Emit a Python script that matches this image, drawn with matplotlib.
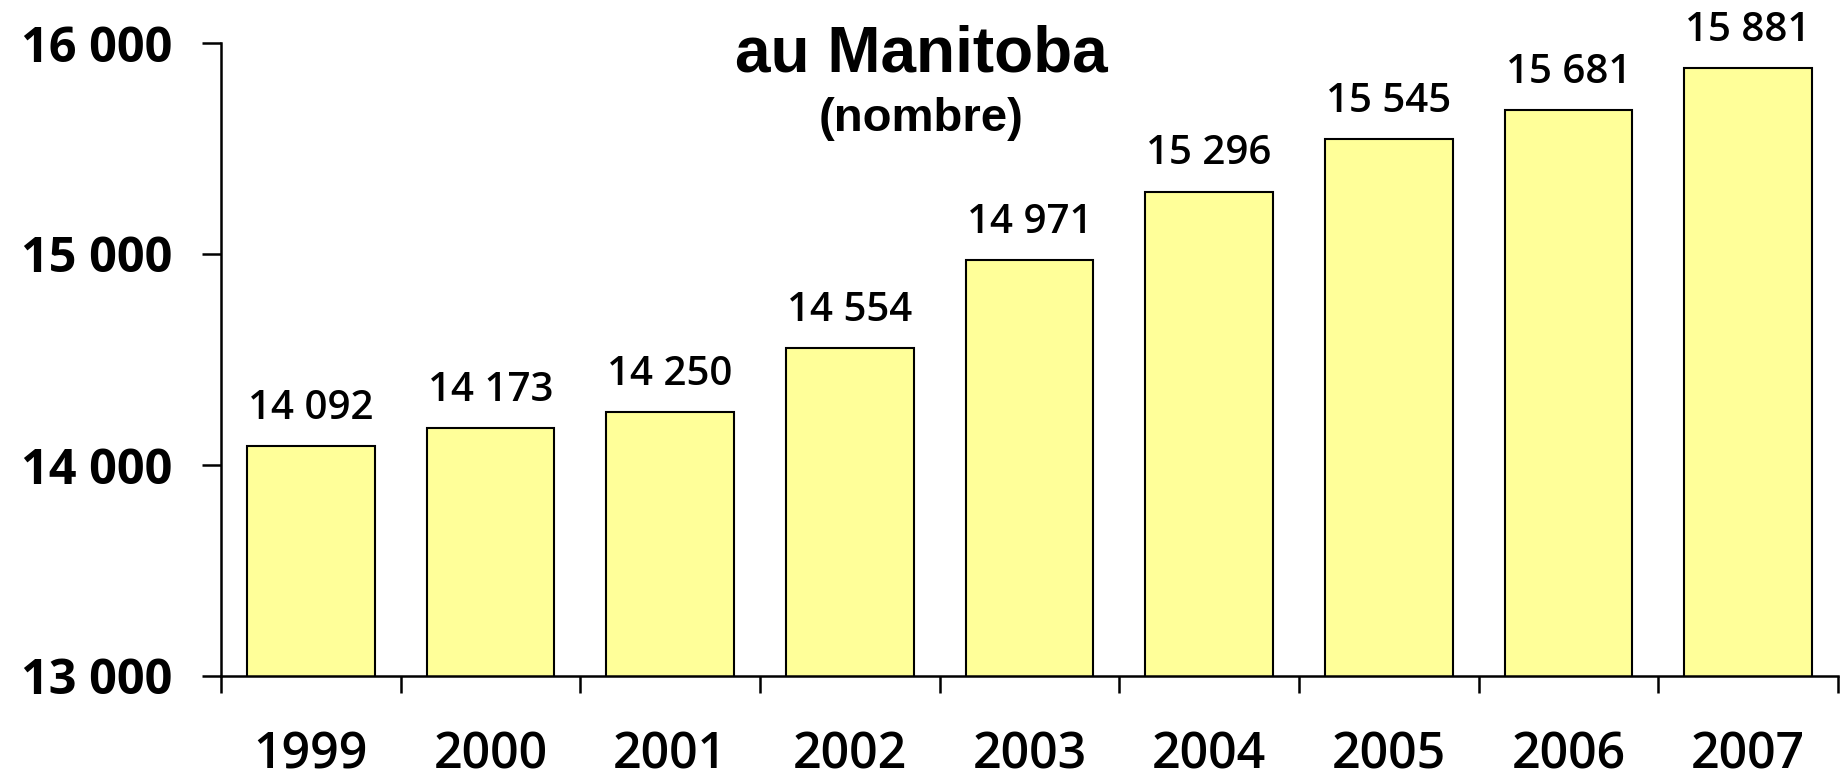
import matplotlib
matplotlib.use("Agg")
import matplotlib.pyplot as plt
from matplotlib.ticker import FixedLocator, FuncFormatter

# data
years = ["1999", "2000", "2001", "2002", "2003", "2004", "2005", "2006", "2007"]
values = [14092, 14173, 14250, 14554, 14971, 15296, 15545, 15681, 15881]
y_ticks = [13000, 14000, 15000, 16000]


def fr_thousands(v):
    return f"{int(v):,}".replace(",", " ")


fig = plt.figure(figsize=(18.41, 7.75), dpi=100)
ax = fig.add_axes([221 / 1841, 1 - 676 / 775, 1 - 221 / 1841 - 3 / 1841, (676 - 43) / 775])

x = list(range(len(years)))
bars = ax.bar(x, values, width=0.71, color="#FFFF99", edgecolor="black", linewidth=1.5, zorder=2)

ax.set_xlim(-0.5, len(years) - 0.5)
ax.set_ylim(13000, 16000)

for spine in ["top", "right"]:
    ax.spines[spine].set_visible(False)
for spine in ["left", "bottom"]:
    ax.spines[spine].set_linewidth(1.8)
    ax.spines[spine].set_zorder(3)

# y axis
ax.set_yticks(y_ticks)
ax.yaxis.set_major_formatter(FuncFormatter(lambda v, p: fr_thousands(v)))
ax.tick_params(axis="y", direction="out", length=13.7, width=1.8, pad=21,
               labelsize=35)
for lab in ax.get_yticklabels():
    lab.set_fontfamily("Open Sans")
    lab.set_fontweight("bold")

# x axis: labels under bars, ticks between categories
ax.set_xticks(x)
ax.set_xticklabels(years, fontsize=36, fontfamily="Open Sans", fontweight="semibold")
ax.tick_params(axis="x", which="major", length=0, pad=39)
ax.xaxis.set_minor_locator(FixedLocator([i + 0.5 for i in range(-1, len(years))]))
ax.tick_params(axis="x", which="minor", direction="out", length=12, width=1.8)

# value labels
for b, v in zip(bars, values):
    ax.annotate(fr_thousands(v), (b.get_x() + b.get_width() / 2, v),
                xytext=(0, 19.5), textcoords="offset points", ha="center", va="baseline",
                fontsize=29, fontfamily="Open Sans", fontweight="semibold")

# title (first line lies above the visible area)
fig.text(921 / 1841, 1 - 72 / 775, "au Manitoba", ha="center", va="baseline",
         fontsize=46, family="Liberation Sans", fontweight="bold")
fig.text(921 / 1841, 1 - 131 / 775, "(nombre)", ha="center", va="baseline",
         fontsize=34, family="Liberation Sans", fontweight="bold")

fig.savefig("out.png", dpi=100)
